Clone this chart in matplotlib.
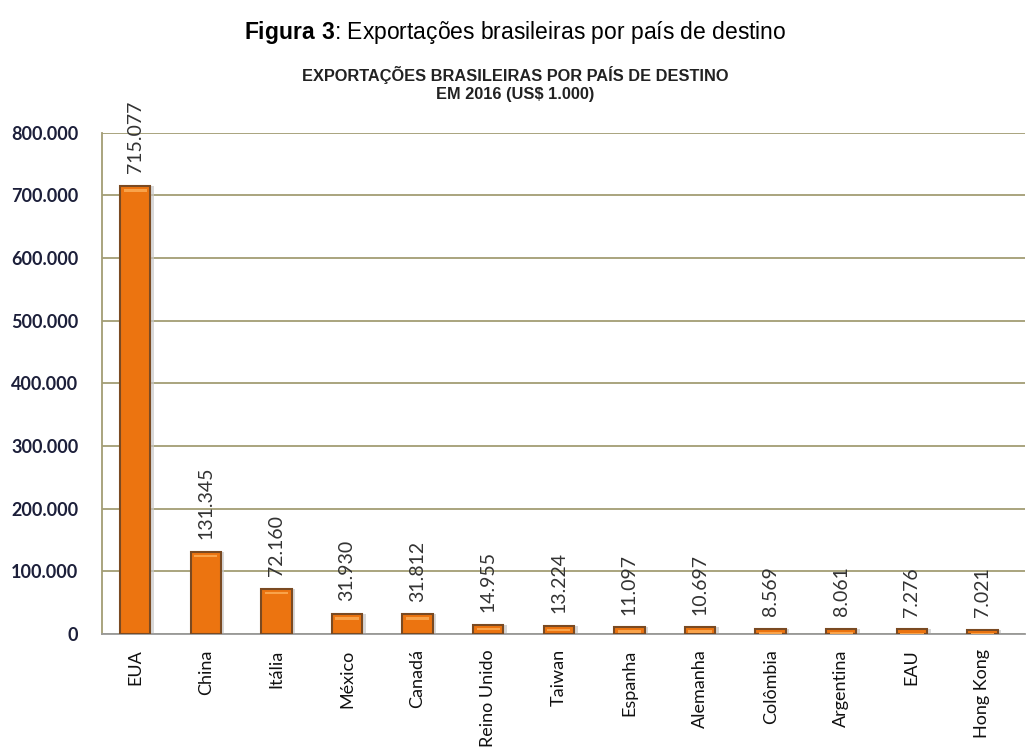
import matplotlib.pyplot as plt

plt.rcParams['mathtext.fontset'] = 'custom'
plt.rcParams['mathtext.rm'] = 'Liberation Sans'
plt.rcParams['mathtext.bf'] = 'Liberation Sans:bold'

# dados do gráfico
paises = ["EUA", "China", "Itália", "México", "Canadá", "Reino Unido", "Taiwan",
          "Espanha", "Alemanha", "Colômbia", "Argentina", "EAU", "Hong Kong"]
valores = [715077, 131345, 72160, 31930, 31812, 14955, 13224,
           11097, 10697, 8569, 8061, 7276, 7021]
rotulos = ["715.077", "131.345", "72.160", "31.930", "31.812", "14.955", "13.224",
           "11.097", "10.697", "8.569", "8.061", "7.276", "7.021"]
yticks = [0, 100000, 200000, 300000, 400000, 500000, 600000, 700000, 800000]
ytick_labels = ["0", "100.000", "200.000", "300.000", "400.000",
                "500.000", "600.000", "700.000", "800.000"]

fig = plt.figure(figsize=(10.3, 7.47), dpi=100)
ax = fig.add_axes([0.099, 0.1513, 0.896, 0.671])

x = range(len(paises))
# sombra
ax.bar([i + 0.05 for i in x], valores, width=0.43, color="#c8c8c8",
       linewidth=0, zorder=2, alpha=0.7)
ax.bar(x, valores, width=0.43, color="#ec7410", edgecolor="#7a4a22",
       linewidth=1.5, zorder=3)
# faixa clara no topo das barras (efeito 3D)
ax.bar(x, [4000] * len(valores), bottom=[v - 9000 for v in valores],
       width=0.33, color="#f9a34a", linewidth=0, zorder=4)

for i, (v, r) in enumerate(zip(valores, rotulos)):
    ax.annotate(r, (i, v), xytext=(0, 9), textcoords="offset points",
                rotation=90, ha="center", va="bottom", fontsize=14,
                family="Lato", color="#333333", annotation_clip=False)

ax.set_xlim(-0.47, 12.6)
ax.set_ylim(0, 800000)
ax.set_yticks(yticks)
ax.set_yticklabels(ytick_labels, fontsize=13, fontweight="bold",
                   family="Lato", color="#1c1f3a")
ax.set_xticks(list(x))
ax.set_xticklabels(paises, rotation=90, fontsize=13, family="Lato", color="#111111")
ax.tick_params(axis="both", length=0)
ax.tick_params(axis="y", pad=17)
ax.tick_params(axis="x", pad=11)

ax.grid(axis="y", color="#a39d74", linewidth=1.3, zorder=0)
for s in ["top", "right"]:
    ax.spines[s].set_visible(False)
ax.spines["left"].set_color("#a39d74")
ax.spines["left"].set_linewidth(1.3)
ax.spines["bottom"].set_color("#999999")
ax.spines["bottom"].set_linewidth(1.3)

fig.text(0.5, 0.956, "$\\bf{Figura\\ 3}$: Exportações brasileiras por país de destino",
         ha="center", va="center", fontsize=16.5, family="Liberation Sans")
fig.text(0.5, 0.888, "EXPORTAÇÕES BRASILEIRAS POR PAÍS DE DESTINO\nEM 2016 (US$ 1.000)",
         ha="center", va="center", fontsize=11.8, fontweight="bold",
         family="Liberation Sans", color="#222222", linespacing=1.25)

fig.savefig("out.png", dpi=100)
